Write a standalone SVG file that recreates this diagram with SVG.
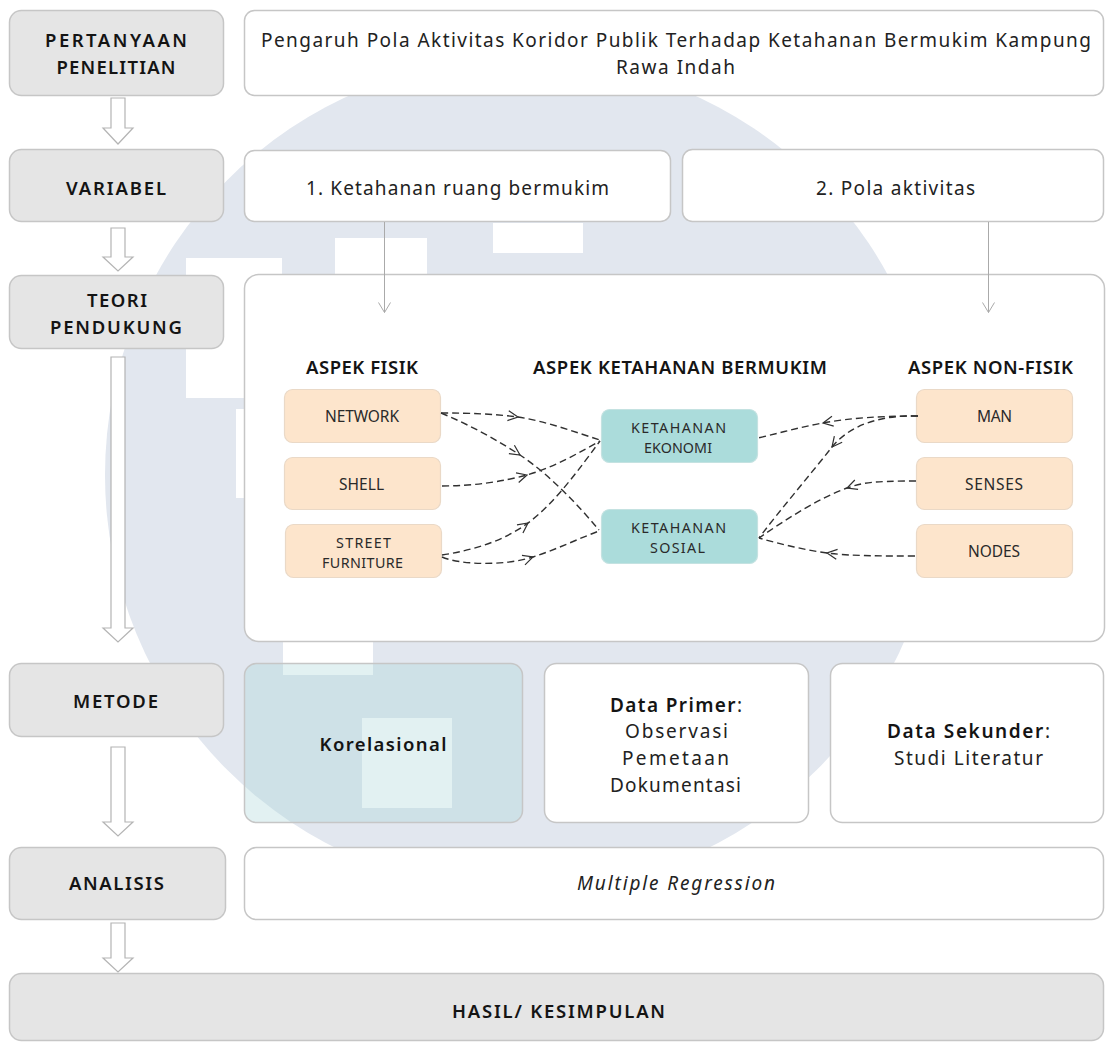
<svg xmlns="http://www.w3.org/2000/svg" width="1106" height="1043" viewBox="0 0 1106 1043">
<defs>
<style>
.gbox{fill:#e5e5e5;stroke:#c6c6c6;stroke-width:1.5}
.wbox{fill:#ffffff;stroke:#c6c6c6;stroke-width:1.5}
.obox{fill:#fde5cc;stroke:#ead9c7;stroke-width:1.2}
.tbox{fill:#abdcdb;stroke:#c4e2e1;stroke-width:1.2}
.kbox{fill:#a6d6d9;fill-opacity:0.33;stroke:#c6c6c6;stroke-width:1.5}
text{font-family:"Noto Sans","Open Sans","DejaVu Sans",sans-serif;text-anchor:middle}
.lbl{font-size:18.5px;font-weight:600;fill:#141414}
.head{font-size:18.5px;font-weight:600;fill:#141414}
.txt{font-size:19px;font-weight:400;fill:#222222}
.sm{font-size:15.5px;font-weight:400;fill:#2a2a2a}
.sm2{font-size:14.3px;font-weight:400;fill:#2a2a2a}
.b{font-weight:600;fill:#141414}
.it{font-style:italic}
.blk{fill:#ffffff;stroke:#b4b4b4;stroke-width:1.2}
.vline{fill:none;stroke:#aaaaaa;stroke-width:1}
.conn{fill:none;stroke:#303030;stroke-width:1.4;stroke-dasharray:7 4;marker-mid:url(#mid)}
.wm{fill:#e2e7ef}
.wsq{fill:#ffffff}
</style>
<marker id="mid" viewBox="-12 -12 24 24" markerWidth="24" markerHeight="24" refX="0" refY="0" orient="auto" markerUnits="userSpaceOnUse">
<path d="M-10,-5 L0,0 L-10,5" fill="none" stroke="#303030" stroke-width="1.2"/>
</marker>
</defs>

<g id="watermark">
<circle class="wm" cx="522" cy="475" r="417"/>
<rect class="wsq" x="186" y="258" width="96" height="140"/>
<rect class="wsq" x="335" y="238" width="92" height="42"/>
<rect class="wsq" x="493" y="223" width="90" height="30"/>
<rect class="wsq" x="236" y="409" width="14" height="89"/>
<rect class="wsq" x="283" y="640" width="90" height="35"/>
<rect class="wsq" x="362" y="718" width="90" height="90"/>
</g>

<g id="node-pertanyaan">
<rect class="gbox" x="9.5" y="10.5" width="214" height="85" rx="12"/>
<text class="lbl" x="116" y="47" textLength="142">PERTANYAAN</text>
<text class="lbl" x="116" y="73.5" textLength="119">PENELITIAN</text>
</g>
<g id="node-judul">
<rect class="wbox" x="244.5" y="10.5" width="859" height="85" rx="10"/>
<text class="txt" x="676" y="46.5" textLength="830">Pengaruh Pola Aktivitas Koridor Publik Terhadap Ketahanan Bermukim Kampung</text>
<text class="txt" x="675.5" y="74" textLength="119">Rawa Indah</text>
</g>

<g id="node-variabel">
<rect class="gbox" x="9.5" y="149.5" width="214" height="72" rx="12"/>
<text class="lbl" x="116" y="195" textLength="100">VARIABEL</text>
</g>
<g id="node-var1">
<rect class="wbox" x="244.5" y="150.5" width="426" height="71" rx="10"/>
<text class="txt" x="457.5" y="195" textLength="303">1. Ketahanan ruang bermukim</text>
</g>
<g id="node-var2">
<rect class="wbox" x="682.5" y="149.5" width="421" height="72" rx="10"/>
<text class="txt" x="895.5" y="195" textLength="159">2. Pola aktivitas</text>
</g>

<g id="node-teori">
<rect class="gbox" x="9.5" y="275.5" width="214" height="73" rx="12"/>
<text class="lbl" x="117" y="307" textLength="60">TEORI</text>
<text class="lbl" x="116" y="334" textLength="132">PENDUKUNG</text>
</g>
<g id="node-teori-box">
<rect class="wbox" x="244.5" y="274.5" width="860" height="367" rx="14"/>
<text class="head" x="362" y="374" textLength="112">ASPEK FISIK</text>
<text class="head" x="680" y="374" textLength="294">ASPEK KETAHANAN BERMUKIM</text>
<text class="head" x="990.5" y="374" textLength="165">ASPEK NON-FISIK</text>
</g>

<g id="node-network">
<rect class="obox" x="284.5" y="389.5" width="156" height="53" rx="8"/>
<text class="sm" x="362" y="422" textLength="74">NETWORK</text>
</g>
<g id="node-shell">
<rect class="obox" x="284.5" y="457.5" width="156" height="52" rx="8"/>
<text class="sm" x="361.5" y="489.5" textLength="45">SHELL</text>
</g>
<g id="node-street">
<rect class="obox" x="285.5" y="524.5" width="156" height="53" rx="8"/>
<text class="sm2" x="363.5" y="547.5" textLength="55">STREET</text>
<text class="sm2" x="362.5" y="568" textLength="81">FURNITURE</text>
</g>

<g id="node-ekonomi">
<rect class="tbox" x="601.5" y="409.5" width="156" height="53" rx="8"/>
<text class="sm2" x="678.5" y="432.5" textLength="95">KETAHANAN</text>
<text class="sm2" x="678" y="453" textLength="68">EKONOMI</text>
</g>
<g id="node-sosial">
<rect class="tbox" x="601.5" y="509.5" width="156" height="54" rx="8"/>
<text class="sm2" x="678.5" y="532.5" textLength="95">KETAHANAN</text>
<text class="sm2" x="677.5" y="553" textLength="55">SOSIAL</text>
</g>

<g id="node-man">
<rect class="obox" x="916.5" y="389.5" width="156" height="53" rx="8"/>
<text class="sm" x="994.5" y="422" textLength="35">MAN</text>
</g>
<g id="node-senses">
<rect class="obox" x="916.5" y="457.5" width="156" height="52" rx="8"/>
<text class="sm" x="994" y="489.5" textLength="58">SENSES</text>
</g>
<g id="node-nodes">
<rect class="obox" x="916.5" y="524.5" width="156" height="53" rx="8"/>
<text class="sm" x="994" y="557" textLength="52">NODES</text>
</g>

<g id="node-metode">
<rect class="gbox" x="9.5" y="663.5" width="214" height="73" rx="12"/>
<text class="lbl" x="115.5" y="708" textLength="85">METODE</text>
</g>
<g id="node-korelasional">
<rect class="kbox" x="244.5" y="663.5" width="278" height="159" rx="12"/>
<text class="lbl" x="383" y="751" textLength="127">Korelasional</text>
</g>
<g id="node-primer">
<rect class="wbox" x="544.5" y="663.5" width="264" height="159" rx="12"/>
<text class="txt" x="676" y="711.5" textLength="132"><tspan class="b">Data Primer</tspan>:</text>
<text class="txt" x="676.5" y="738" textLength="103">Observasi</text>
<text class="txt" x="675.5" y="765" textLength="107">Pemetaan</text>
<text class="txt" x="675.5" y="792" textLength="131">Dokumentasi</text>
</g>
<g id="node-sekunder">
<rect class="wbox" x="830.5" y="663.5" width="273" height="159" rx="12"/>
<text class="txt" x="968.5" y="738" textLength="163"><tspan class="b">Data Sekunder</tspan>:</text>
<text class="txt" x="968.5" y="765" textLength="149">Studi Literatur</text>
</g>

<g id="node-analisis">
<rect class="gbox" x="9.5" y="847.5" width="216" height="72" rx="12"/>
<text class="lbl" x="116.5" y="890" textLength="95">ANALISIS</text>
</g>
<g id="node-regresi">
<rect class="wbox" x="244.5" y="847.5" width="859" height="72" rx="12"/>
<text class="txt it" x="676" y="890" textLength="198">Multiple Regression</text>
</g>

<g id="node-hasil">
<rect class="gbox" x="9.5" y="973.5" width="1094" height="67" rx="12"/>
<text class="lbl" x="558.5" y="1017.5" textLength="213">HASIL/ KESIMPULAN</text>
</g>

<g id="connectors">
<polygon class="blk" points="111,98 125,98 125,128 133,128 118,144 103,128 111,128"/>
<polygon class="blk" points="111,228 125,228 125,257 133,257 118,271 103,257 111,257"/>
<polygon class="blk" points="111,357 125,357 125,628 133,628 118,642 103,628 111,628"/>
<polygon class="blk" points="111,747 125,747 125,822 133,822 118,836 103,822 111,822"/>
<polygon class="blk" points="111,923 125,923 125,958 133,958 118,972 103,958 111,958"/>

<path class="vline" d="M384.5,222 V312.5 M378.5,302.5 L384.5,312.5 L390.5,302.5"/>
<path class="vline" d="M988.5,222 V312.5 M982.5,302.5 L988.5,312.5 L994.5,302.5"/>

<path class="conn" d="M441,413 C470,413 495,414 518,417 C545,421 575,432 600,440"/>
<path class="conn" d="M441,413 C470,425 497,440 520,455 C550,475 578,505 599,530"/>
<path class="conn" d="M442,486 C475,486 505,481 527,475 C555,467 580,452 600,441"/>
<path class="conn" d="M442,555 C475,550 505,540 528,523 C555,503 580,468 600,441"/>
<path class="conn" d="M442,557 C460,565 505,566 533,557 C555,550 580,538 599,531"/>

<path class="conn" d="M918,416 C880,416 850,418 823,423 C800,427 780,433 758,438"/>
<path class="conn" d="M918,416 C880,415 850,425 832,447 C810,475 780,510 759,538"/>
<path class="conn" d="M916,481 C870,481 862,483 847,488 C819,498 785,520 759,538"/>
<path class="conn" d="M915,556 C880,556 850,556 827,553 C805,550 780,544 759,538"/>
</g>
</svg>
